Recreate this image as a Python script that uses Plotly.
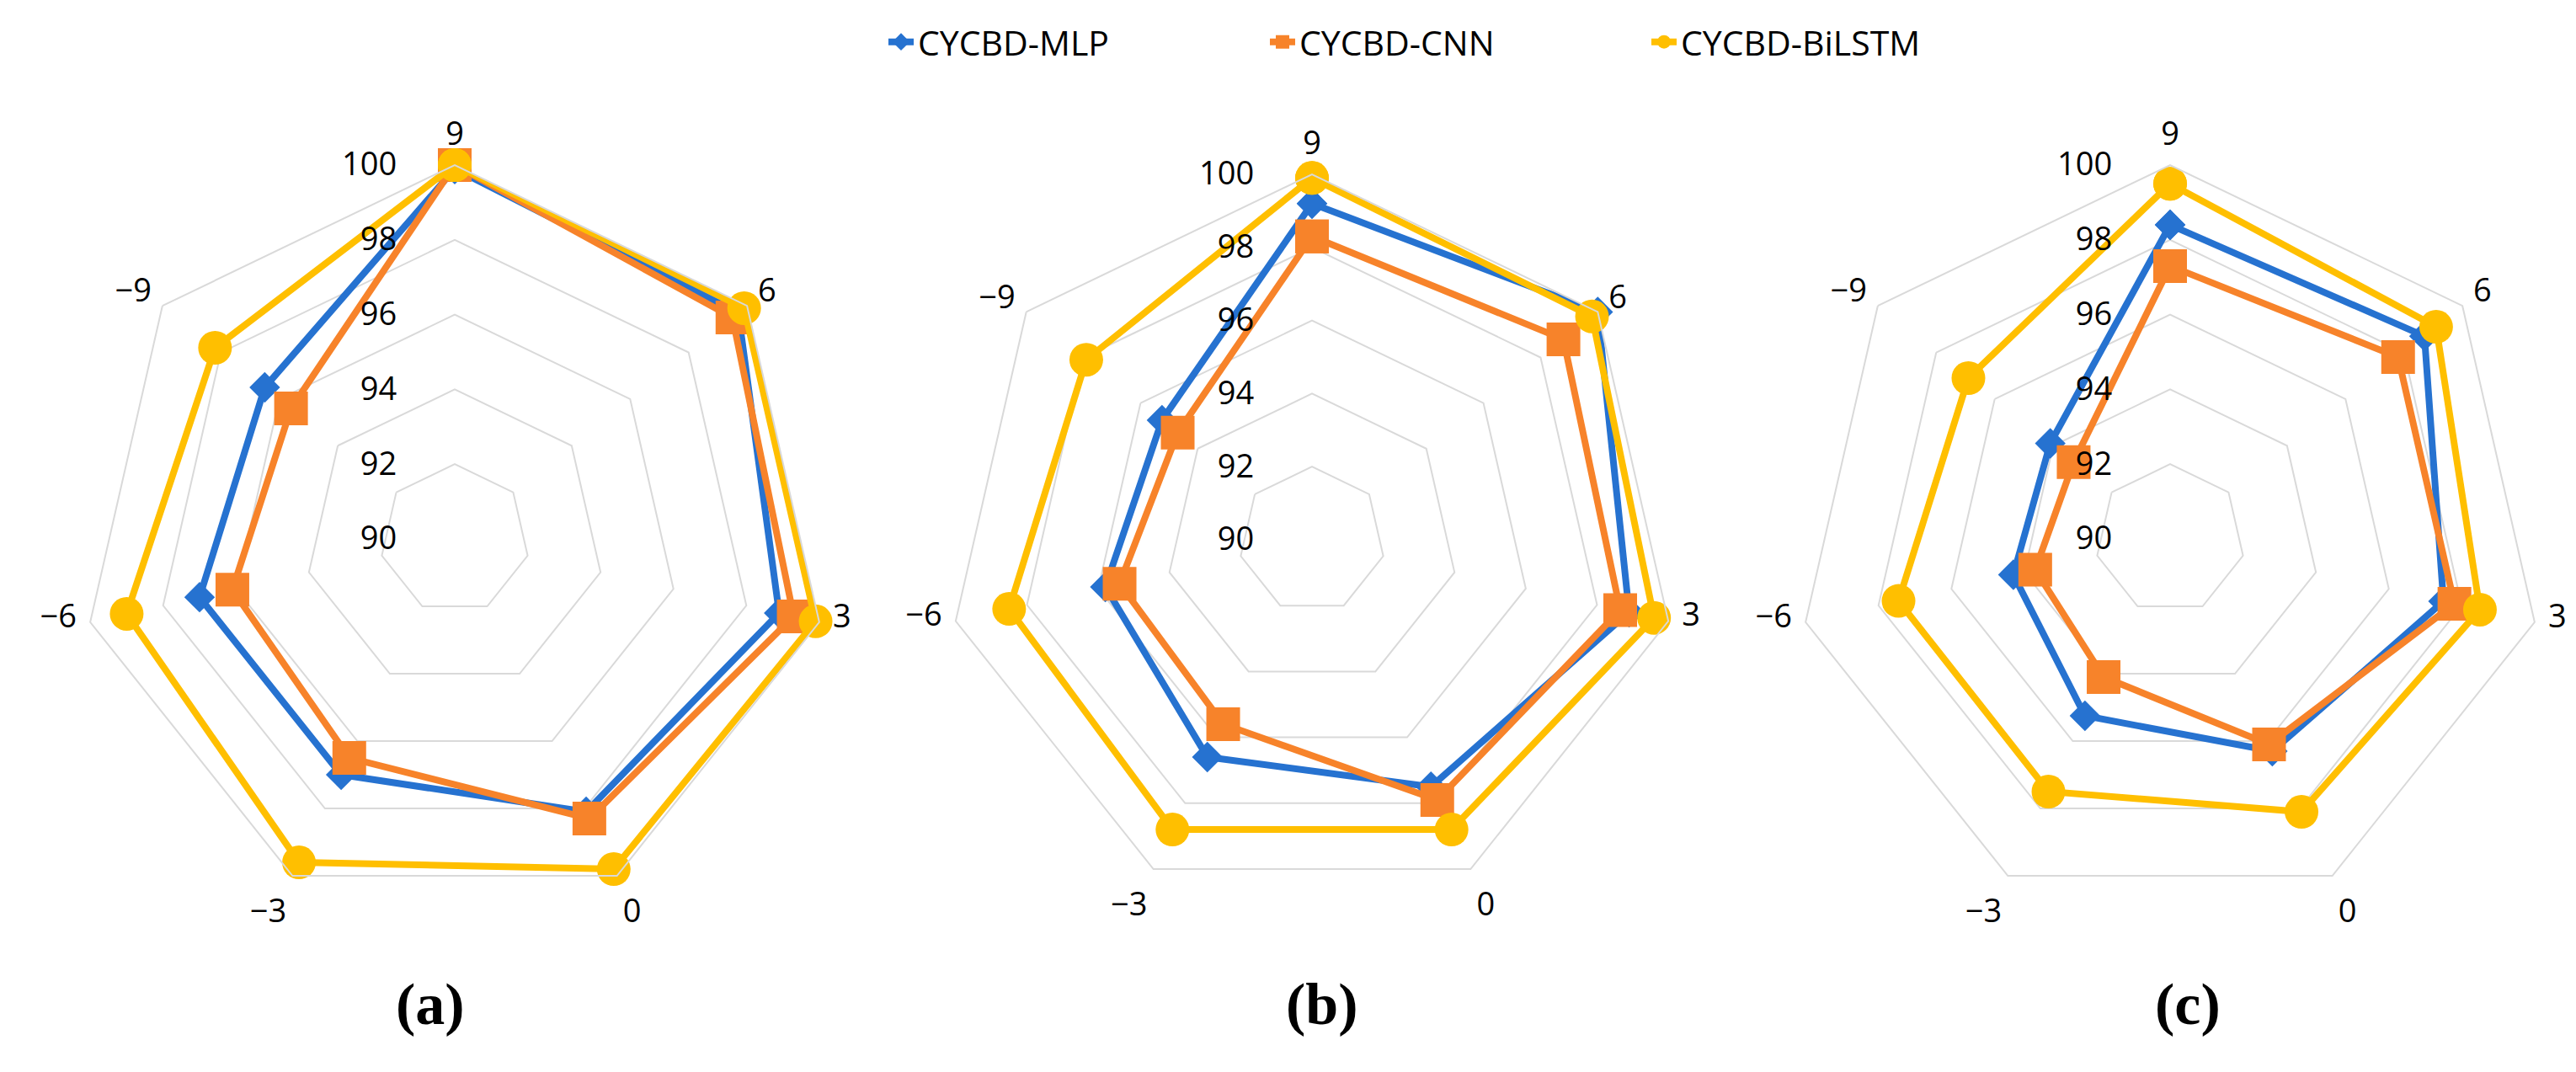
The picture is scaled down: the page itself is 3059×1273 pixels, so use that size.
import plotly.graph_objects as go

categories = ["9", "6", "3", "0", "\u22123", "\u22126", "\u22129"]
series_names = ["CYCBD-MLP", "CYCBD-CNN", "CYCBD-BiLSTM"]
panel_labels = ["(a)", "(b)", "(c)"]
radial_ticks = [90, 92, 94, 96, 98, 100]

mlp_a = [99.9, 99.7, 98.9, 98.1, 97.0, 97.0, 96.5]
cnn_a = [100.0, 99.5, 99.3, 98.3, 96.5, 96.1, 95.6]
bilstm_a = [100.0, 99.9, 99.9, 99.8, 99.6, 99.0, 98.2]

mlp_b = [99.2, 100.0, 98.9, 97.5, 96.6, 95.8, 95.25]
cnn_b = [98.3, 98.8, 98.65, 97.9, 95.6, 95.4, 94.7]
bilstm_b = [99.9, 99.8, 99.6, 98.8, 98.8, 98.5, 97.9]

mlp_c = [98.4, 98.7, 97.5, 96.3, 95.25, 94.3, 94.1]
cnn_c = [97.3, 97.8, 97.8, 96.1, 94.1, 93.7, 93.3]
bilstm_c = [99.5, 99.1, 98.5, 98.1, 97.5, 97.45, 96.9]

panels = [
    [mlp_a, cnn_a, bilstm_a],
    [mlp_b, cnn_b, bilstm_b],
    [mlp_c, cnn_c, bilstm_c],
]

colors = ["#2672D0", "#F7832A", "#FFBF00"]
symbols = ["diamond", "square", "circle"]
msizes = [28, 40, 40]

W, H = 3059, 1273
FONT = "Open Sans"

# panel geometry in pixels: (center x, center y from top, radius)
geom = [(532, 632, 444), (1550, 633, 434), (2569, 632, 444)]

# side labels (3 and -6) sit a little higher in the original
angular_text = [c + "<br> " if c in ("3", "\u22126") else c for c in categories]

fig = go.Figure()
polar_keys = ["polar", "polar2", "polar3"]
for p, vals in enumerate(panels):
    for s, v in enumerate(vals):
        fig.add_trace(go.Scatterpolar(
            r=v + v[:1],
            theta=categories + categories[:1],
            mode="lines+markers",
            name=series_names[s],
            legendgroup=series_names[s],
            showlegend=(p == 0),
            line=dict(color=colors[s], width=8),
            marker=dict(symbol=symbols[s], size=msizes[s], color=colors[s],
                        line=dict(width=0)),
            subplot=polar_keys[p],
        ))

layout = dict(
    width=W, height=H,
    margin=dict(l=0, r=0, t=0, b=0),
    paper_bgcolor="white",
    plot_bgcolor="white",
    font=dict(family=FONT, size=38, color="black"),
    showlegend=True,
    legend=dict(
        orientation="h",
        x=1042 / W, xanchor="left",
        y=1 - 42 / H, yanchor="middle",
        font=dict(family=FONT, size=41, color="black"),
        entrywidth=408, entrywidthmode="pixels",
        bgcolor="rgba(0,0,0,0)",
    ),
)

for p, key in enumerate(polar_keys):
    cx, cy, R = geom[p]
    cyb = H - cy
    layout[key] = dict(
        domain=dict(x=[(cx - R) / W, (cx + R) / W], y=[(cyb - R) / H, (cyb + R) / H]),
        gridshape="linear",
        bgcolor="white",
        radialaxis=dict(
            range=[90, 100],
            tickvals=radial_ticks,
            angle=90,
            side="counterclockwise",
            showline=False,
            showgrid=True,
            gridcolor="#D9D9D9",
            gridwidth=2,
            ticks="outside",
            ticklen=55,
            tickcolor="rgba(0,0,0,0)",
            tickangle=90,
            tickfont=dict(family=FONT, size=38, color="black"),
        ),
        angularaxis=dict(
            type="category",
            direction="clockwise",
            rotation=90,
            showgrid=False,
            showline=True,
            linecolor="#D9D9D9",
            linewidth=2,
            ticks="outside",
            ticklen=8,
            tickcolor="rgba(0,0,0,0)",
            tickmode="array",
            tickvals=categories,
            ticktext=angular_text,
            tickfont=dict(family=FONT, size=38, color="black"),
        ),
    )

label_x = [503, 1562, 2590]
layout["annotations"] = [
    dict(text="<b>%s</b>" % panel_labels[i], x=label_x[i] / W, y=1 - 1184 / H,
         xref="paper", yref="paper", showarrow=False,
         xanchor="center", yanchor="middle",
         font=dict(family="Liberation Serif", size=70, color="black"))
    for i in range(3)
]

fig.update_layout(**layout)
fig.write_html("out.html")
